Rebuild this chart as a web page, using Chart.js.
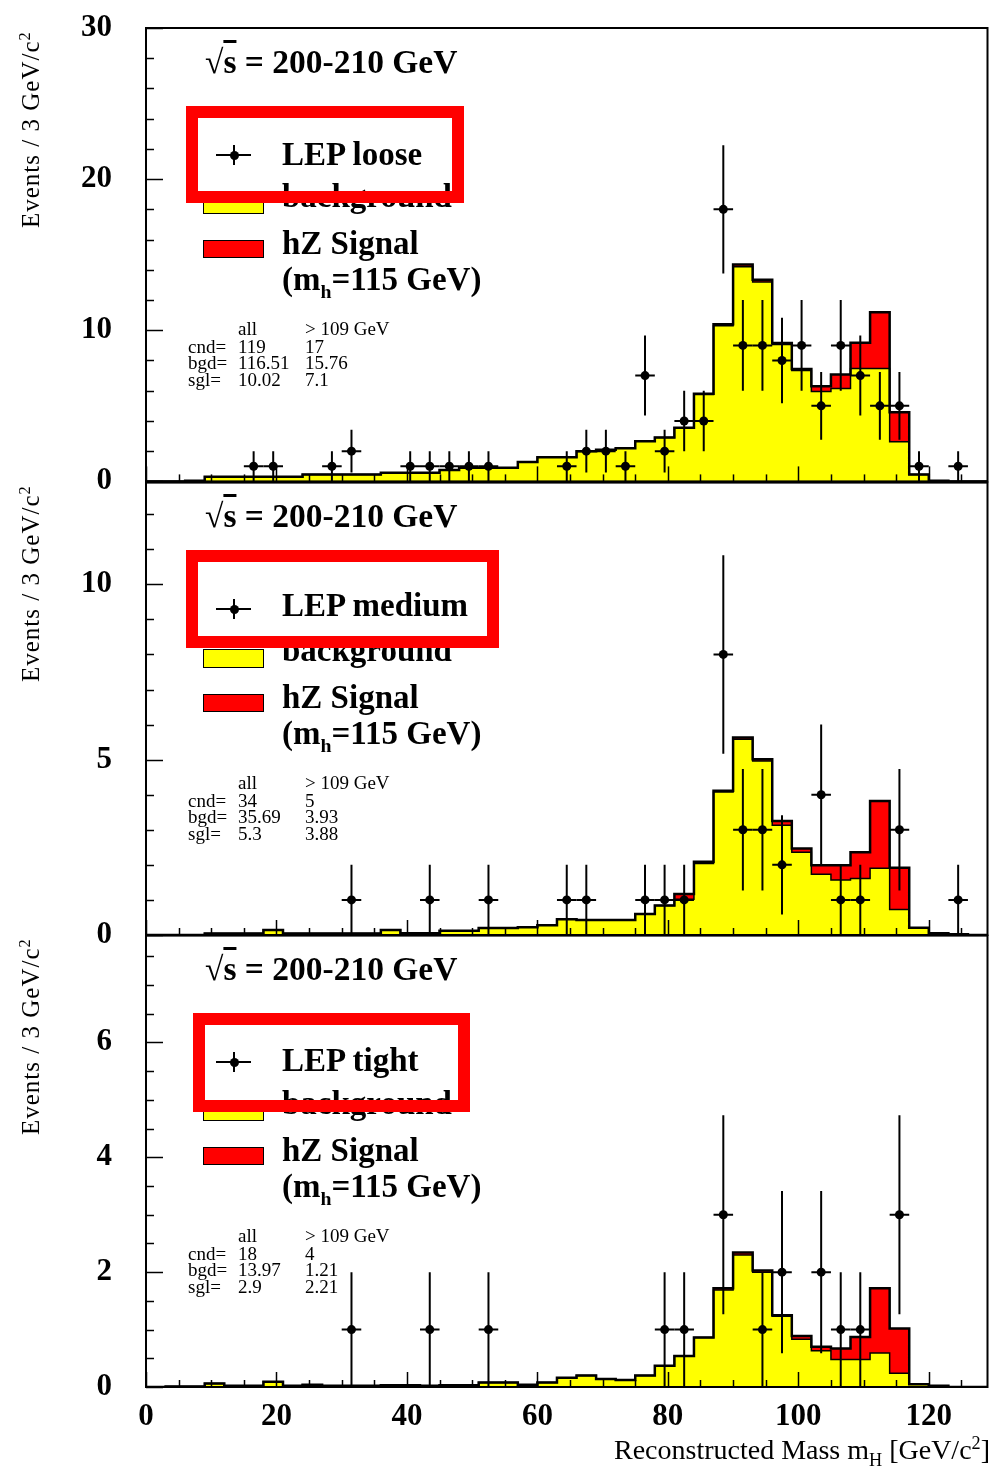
<!DOCTYPE html>
<html><head><meta charset="utf-8">
<script src="https://cdn.jsdelivr.net/npm/chart.js"></script>
<style>
html,body{margin:0;padding:0;background:#fff;}
#wrap{position:relative;width:992px;height:1466px;overflow:hidden;background:#fff;}
#wrap canvas{position:absolute;left:0;}
.t{position:absolute;white-space:nowrap;font-family:"Liberation Serif","Times New Roman",serif;color:#000;}
.t sub,.t sup{line-height:0;}
.sw{position:absolute;box-sizing:border-box;border:1.5px solid #000;}
.rb{position:absolute;box-sizing:border-box;border:12px solid #ff0000;}
.ln{position:absolute;background:#000;}
</style></head><body><div id="wrap"></div>
<script>
// ---------- data ----------
const massEdges = [0,3,6,9,12,15,18,21,24,27,30,33,36,39,42,45,48,51,54,57,60,63,66,69,72,75,78,81,84,87,90,93,96,99,102,105,108,111,114,117,120,123,126];
const massUpper = 129;
const xTickValues = [0,20,40,60,80,100,120];
const looseTicks = [0,10,20,30];
const mediumTicks = [0,5,10];
const tightTicks = [0,2,4,6];

const looseBackground = [0,0,0.05,0.3,0.3,0.3,0.3,0.3,0.45,0.45,0.45,0.45,0.57,0.57,0.57,0.75,0.9,0.9,0.9,1.28,1.6,1.6,2.0,2.1,2.2,2.66,2.9,3.55,5.75,10.3,14.2,13.2,9.05,7.33,5.95,6.15,7.47,7.47,2.62,0.45,0.05,0,0];
const looseSignal = [0,0,0,0,0,0,0,0,0,0,0,0,0,0,0,0,0,0,0,0,0,0,0,0,0,0,0,0,0.05,0.1,0.15,0.15,0.1,0.1,0.35,0.92,1.7,3.72,1.96,0,0,0,0];
const looseCandidates = [0,0,0,0,0,1,1,0,0,1,2,0,0,1,1,1,1,1,0,0,0,1,2,2,1,7,2,4,4,18,9,9,8,9,5,9,7,5,5,1,0,1,0];

const mediumBackground = [0,0,0,0.04,0.04,0.04,0.14,0.04,0.04,0.04,0.04,0.04,0.14,0.05,0.05,0.12,0.12,0.2,0.2,0.22,0.28,0.45,0.43,0.43,0.43,0.6,0.84,1.02,2.04,4.08,5.58,4.96,3.13,2.36,1.73,1.57,1.61,1.9,0.73,0.19,0.05,0.02,0];
const mediumSignal = [0,0,0,0,0,0,0,0,0,0,0,0,0,0,0,0,0,0,0,0,0,0,0,0,0,0,0,0.15,0.05,0.03,0.05,0.05,0.12,0.11,0.26,0.42,0.75,1.92,1.19,0.02,0,0,0];
const mediumCandidates = [0,0,0,0,0,0,0,0,0,0,1,0,0,0,1,0,0,1,0,0,0,1,1,0,0,1,1,1,0,8,3,3,2,0,4,1,1,0,3,0,0,1,0];

const tightBackground = [0,0.01,0.01,0.06,0.02,0.02,0.09,0.02,0.04,0.02,0.02,0.02,0.03,0.03,0.02,0.03,0.03,0.08,0.08,0.04,0.08,0.16,0.2,0.14,0.12,0.2,0.37,0.54,0.86,1.69,2.3,2.0,1.23,0.83,0.63,0.48,0.48,0.59,0.24,0.05,0.02,0,0];
const tightSignal = [0,0,0,0,0,0,0,0,0,0,0,0,0,0,0,0,0,0,0,0,0,0,0,0,0,0,0,0,0,0.03,0.04,0.03,0.02,0.06,0.07,0.19,0.39,1.13,0.78,0,0,0,0];
const tightCandidates = [0,0,0,0,0,0,0,0,0,0,1,0,0,0,1,0,0,1,0,0,0,0,0,0,0,0,1,1,0,3,0,1,2,0,2,1,1,0,3,0,0,0,0];

const selectionNames = ['LEP loose','LEP medium','LEP tight'];
const statsRowNames = ['cnd=','bgd=','sgl='];
const looseStatsAll = ['119','116.51','10.02'];
const looseStatsHigh = ['17','15.76','7.1'];
const mediumStatsAll = ['34','35.69','5.3'];
const mediumStatsHigh = ['5','3.93','3.88'];
const tightStatsAll = ['18','13.97','2.9'];
const tightStatsHigh = ['4','1.21','2.21'];

const PANELS = [
  {name:selectionNames[0], bg:looseBackground, sig:looseSignal, cand:looseCandidates, ticks:looseTicks, all:looseStatsAll, high:looseStatsHigh},
  {name:selectionNames[1], bg:mediumBackground, sig:mediumSignal, cand:mediumCandidates, ticks:mediumTicks, all:mediumStatsAll, high:mediumStatsHigh},
  {name:selectionNames[2], bg:tightBackground, sig:tightSignal, cand:tightCandidates, ticks:tightTicks, all:tightStatsAll, high:tightStatsHigh}
];

// ---------- layout (positions / styles) ----------
const LAYOUT = {
  left:146, right:990, height:1466,
  panels:[
    {top:28, bottom:482, canvasTop:0, canvasH:500, yMax:30, minor:2, major:10, legendBase:137.7, box:[186,105.7,464,203.3]},
    {top:482, bottom:935, canvasTop:464, canvasH:490, yMax:12.9, minor:1, major:5, legendBase:134.7, box:[186,550,499,648.3]},
    {top:935, bottom:1387, canvasTop:917, canvasH:549, yMax:7.86, minor:0.5, major:2, legendBase:136.7, box:[192.7,1013.3,470,1111.7]}
  ]
};
const SERIF = '"Liberation Serif","Times New Roman",serif';
const wrap = document.getElementById('wrap');

const framePlugin = {
  id:'frame',
  afterDraw(chart, args, opts){
    const {ctx, chartArea:a, scales:{x, y}} = chart;
    ctx.save();
    ctx.strokeStyle = '#000'; ctx.lineWidth = 1.5;
    const ratio = Math.round(opts.major/opts.minor);
    for (let k=0; k*opts.minor <= y.max + 1e-9; k++){
      const py = Math.round(y.getPixelForValue(k*opts.minor)) + 0.5;
      const len = (k % ratio === 0) ? 17 : 8;
      ctx.beginPath(); ctx.moveTo(a.left, py); ctx.lineTo(a.left+len, py); ctx.stroke();
    }
    for (let v=0; v <= x.max; v += 5){
      const px = Math.round(x.getPixelForValue(v)) + 0.5;
      const len = (v % 20 === 0) ? 15 : 7;
      ctx.beginPath(); ctx.moveTo(px, a.bottom); ctx.lineTo(px, a.bottom-len); ctx.stroke();
    }
    ctx.lineWidth = 2;
    ctx.strokeRect(a.left, a.top, a.right-a.left, a.bottom-a.top);
    ctx.restore();
  }
};

const errorBarPlugin = {
  id:'errbars',
  afterDatasetsDraw(chart){
    const {ctx, chartArea:a, scales:{x, y}} = chart;
    const ds = chart.data.datasets[2];
    ctx.save();
    ctx.beginPath(); ctx.rect(a.left, a.top, a.right-a.left, a.bottom-a.top); ctx.clip();
    ctx.strokeStyle = '#000'; ctx.lineWidth = 2;
    ds.data.forEach(pt => {
      const e = Math.sqrt(pt.y);
      const px = x.getPixelForValue(pt.x), py = y.getPixelForValue(pt.y);
      ctx.beginPath();
      ctx.moveTo(px, y.getPixelForValue(pt.y - e)); ctx.lineTo(px, y.getPixelForValue(pt.y + e));
      ctx.moveTo(x.getPixelForValue(pt.x - pt.hw), py); ctx.lineTo(x.getPixelForValue(pt.x + pt.hw), py);
      ctx.stroke();
    });
    ctx.restore();
  }
};

function makeChart(i){
  const L = LAYOUT.panels[i], P = PANELS[i];
  const isBottom = (i === LAYOUT.panels.length - 1);
  const cv = document.createElement('canvas');
  cv.width = 992; cv.height = L.canvasH;
  cv.style.top = L.canvasTop + 'px';
  wrap.appendChild(cv);
  const bgPts = massEdges.map((e,k)=>({x:e, y:P.bg[k]})).concat([{x:massUpper, y:0}]);
  const totPts = massEdges.map((e,k)=>({x:e, y:P.bg[k]+P.sig[k]})).concat([{x:massUpper, y:0}]);
  const pts = [];
  massEdges.forEach((e,k)=>{
    if (P.cand[k] > 0){
      const hi = (k+1 < massEdges.length) ? massEdges[k+1] : massUpper;
      pts.push({x:(e+hi)/2, y:P.cand[k], hw:(hi-e)/2});
    }
  });
  const padTop = L.top - L.canvasTop;
  const padBottom = isBottom ? 0 : (L.canvasTop + L.canvasH - L.bottom);
  new Chart(cv.getContext('2d'), {
    type:'line',
    data:{datasets:[
      {label:'background', data:bgPts, stepped:true, fill:'origin', backgroundColor:'#ffff00', borderColor:'#000', borderWidth:1.5, pointRadius:0, order:3},
      {label:'hZ Signal', data:totPts, stepped:true, fill:'-1', backgroundColor:'#ff0000', borderColor:'#000', borderWidth:2.5, pointRadius:0, order:2},
      {label:P.name, data:pts, showLine:false, pointRadius:4.5, pointHoverRadius:4.5, pointBackgroundColor:'#000', pointBorderColor:'#000', pointBorderWidth:0, order:1}
    ]},
    options:{
      responsive:false, animation:false, devicePixelRatio:1,
      events:[],
      layout:{padding:{top:padTop, bottom:padBottom, left:0, right:992-LAYOUT.right}},
      plugins:{legend:{display:false}, tooltip:{enabled:false}, filler:{drawTime:'beforeDatasetsDraw'},
               frame:{minor:L.minor, major:L.major}},
      scales:{
        x:{type:'linear', min:0, max:massUpper, display:isBottom,
           grid:{display:false}, border:{display:false},
           afterBuildTicks:s=>{ s.ticks = xTickValues.map(v=>({value:v})); },
           afterFit:s=>{ if (isBottom) s.height = LAYOUT.height - L.bottom; },
           ticks:{padding:3, color:'#000', maxRotation:0, autoSkip:false, font:{family:SERIF, size:31, weight:'bold'}}},
        y:{type:'linear', min:0, max:L.yMax,
           grid:{display:true, drawOnChartArea:false, drawTicks:true, tickLength:34, tickColor:'rgba(0,0,0,0)'},
           border:{display:false},
           afterBuildTicks:s=>{ s.ticks = P.ticks.map(v=>({value:v})); },
           afterFit:s=>{ s.width = LAYOUT.left; },
           ticks:{padding:0, color:'#000', font:{family:SERIF, size:31, weight:'bold'}}}
      }
    },
    plugins:[framePlugin, errorBarPlugin]
  });
}

function addText(html, x, baseline, size, weight){
  const d = document.createElement('div'); d.className = 't';
  d.style.left = x + 'px'; d.style.top = (baseline - 0.8375*size) + 'px';
  d.style.fontSize = size + 'px'; d.style.lineHeight = size + 'px'; d.style.fontWeight = weight;
  d.innerHTML = html; wrap.appendChild(d); return d;
}
function addBox(cls, x0, y0, x1, y1, bg){
  const d = document.createElement('div'); d.className = cls;
  d.style.left = x0 + 'px'; d.style.top = y0 + 'px';
  d.style.width = (x1-x0) + 'px'; d.style.height = (y1-y0) + 'px';
  if (bg) d.style.background = bg;
  wrap.appendChild(d); return d;
}

function decorate(i){
  const L = LAYOUT.panels[i], P = PANELS[i], T = L.top;
  // y-axis title
  const yt = document.createElement('div'); yt.className = 't';
  yt.style.fontSize = '25px'; yt.style.lineHeight = '25px'; yt.style.letterSpacing = '1px';
  yt.style.left = '18px'; yt.style.top = (T + 200) + 'px';
  yt.style.transformOrigin = '0 0'; yt.style.transform = 'rotate(-90deg)';
  yt.innerHTML = 'Events / 3 GeV/c<sup style="font-size:65%">2</sup>';
  wrap.appendChild(yt);
  // energy
  addText('<span style="font-weight:normal">&radic;</span><span style="text-decoration:overline">s</span> = 200-210 GeV', 205, T+45, 33.5, 'bold');
  // legend marker
  addBox('ln', 216, T+126, 251, T+128);
  addBox('ln', 233, T+117, 235, T+137);
  const dot = addBox('ln', 229.5, T+122.5, 238.5, T+131.5); dot.style.borderRadius = '50%';
  addText(P.name, 282, T + L.legendBase, 33, 'bold');
  addBox('sw', 203, T+167, 264, T+186, '#ffff00');
  addText('background', 282, T+180, 33, 'bold');
  addBox('sw', 203, T+212, 264, T+230, '#ff0000');
  addText('hZ Signal', 282, T+227, 33, 'bold');
  addText('(m<sub style="font-size:60%">h</sub>=115 GeV)', 282, T+263, 33, 'bold');
  // stats
  addText('all', 238, T+307, 19, 'normal');
  addText('&gt; 109 GeV', 305, T+307, 19, 'normal');
  statsRowNames.forEach((nm, r)=>{
    const b = T + 324.5 + r*16.5;
    addText(nm, 188, b, 19, 'normal');
    addText(P.all[r], 238, b, 19, 'normal');
    addText(P.high[r], 305, b, 19, 'normal');
  });
  // red highlight box
  addBox('rb', L.box[0], L.box[1], L.box[2], L.box[3]);
}

for (let i=0; i<PANELS.length; i++){ makeChart(i); }
for (let i=0; i<PANELS.length; i++){ decorate(i); }

const xt = document.createElement('div'); xt.className = 't';
xt.style.right = '2px'; xt.style.top = (1459 - 0.8375*28) + 'px';
xt.style.fontSize = '28px'; xt.style.lineHeight = '28px';
xt.innerHTML = 'Reconstructed Mass m<sub style="font-size:65%">H</sub> [GeV/c<sup style="font-size:65%">2</sup>]';
wrap.appendChild(xt);
</script>
</body></html>
